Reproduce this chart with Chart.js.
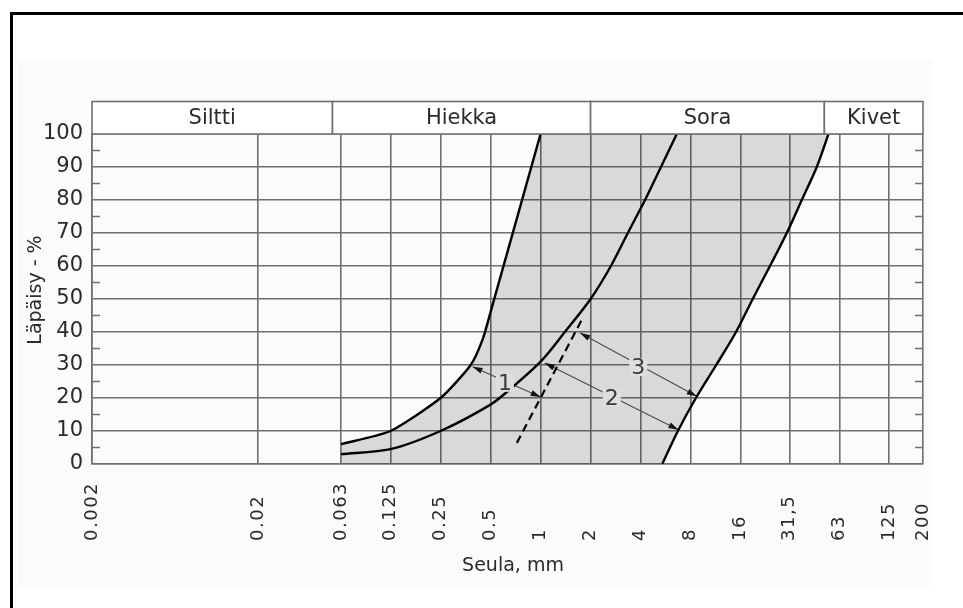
<!DOCTYPE html>
<html>
<head>
<meta charset="utf-8">
<script src="https://cdn.jsdelivr.net/npm/chart.js@4/dist/chart.umd.min.js"></script>
<style>
  html, body { margin: 0; padding: 0; background: #fff; }
  canvas { display: block; }
</style>
</head>
<body>
<canvas id="grading" width="963" height="608"></canvas>
<script>
// Sieve sizes (mm) shown on the x axis and their printed labels
const sieveSizes  = [0.002, 0.02, 0.063, 0.125, 0.25, 0.5, 1, 2, 4, 8, 16, 31.5, 63, 125, 200];
const sieveLabels = ['0.002', '0.02', '0.063', '0.125', '0.25', '0.5', '1', '2', '4', '8', '16', '31,5', '63', '125', '200'];
const minorPass   = [5, 15, 25, 35, 45, 55, 65, 75, 85, 95];

// Soil class header row
const soilClasses = ['Siltti', 'Hiekka', 'Sora', 'Kivet'];
const classBounds = [0.002, 0.056, 2, 51, 200];

// Fine limit of the grading band
const fineSize = [0.063, 0.125, 0.25, 0.38, 0.45, 0.5, 1];
const finePass = [6, 10, 20, 30, 38, 46, 100];

// Middle grading curve
const midSize = [0.063, 0.125, 0.25, 0.5, 0.65, 1, 1.4, 2, 2.65, 3.35, 4.25, 5.3, 6.6];
const midPass = [3, 4.5, 10, 18, 22.5, 31, 40, 50, 60, 70, 80, 90, 100];

// Coarse limit of the grading band
const coarseSize = [5.4, 6.7, 8.6, 11.4, 15.0, 18.9, 24, 30.3, 37.3, 45.9, 54];
const coarsePass = [0, 10, 20, 30, 40, 50, 60, 70, 80, 90, 100];

// Dashed reference line
const dashSize = [0.72, 1.77];
const dashPass = [6.4, 43.7];

// Dimension arrows 1-3
const arrowNames     = ['1', '2', '3'];
const arrowFromSize  = [0.39, 1.06, 1.73];
const arrowFromPass  = [29.5, 30.6, 39.7];
const arrowToSize    = [1.0, 6.75, 8.7];
const arrowToPass    = [20.3, 10.4, 20.5];
const arrowLabelSize = [0.61, 2.68, 3.87];
const arrowLabelPass = [24.6, 20, 29.4];

const FONT = "'DejaVu Sans', Verdana, sans-serif";
const GRID = '#707070';
const TEXT = '#2a2a2a';
const BAND = 'rgba(0,0,0,0.135)';

const pts = (xs, ys) => xs.map((x, i) => ({ x, y: ys[i] }));

const line = (data, extra) => Object.assign({
  data, showLine: true, pointRadius: 0, pointHoverRadius: 0,
  fill: false, borderColor: '#000', borderWidth: 2.4, tension: 0
}, extra || {});

const FINE = 0, MID = 1, COARSE = 2;
const datasets = [
  line(pts(fineSize, finePass), { tension: 0.2 }),
  line(pts(midSize, midPass), { tension: 0.3 }),
  line(pts(coarseSize, coarsePass), { tension: 0.3 }),
  line(pts(dashSize, dashPass), { borderDash: [8, 5], borderWidth: 2.2 })
];
const firstArrow = datasets.length;
arrowNames.forEach((_, i) => {
  datasets.push(line([
    { x: arrowFromSize[i], y: arrowFromPass[i] },
    { x: arrowToSize[i], y: arrowToPass[i] }
  ], { borderColor: '#4a4a4a', borderWidth: 1.1 }));
});

// Page background and the black frame lines
const framePlugin = {
  id: 'frame',
  beforeDraw(chart) {
    const ctx = chart.ctx;
    ctx.save();
    ctx.fillStyle = '#fff';
    ctx.fillRect(0, 0, chart.width, chart.height);
    ctx.fillStyle = '#fbfbfb';
    ctx.fillRect(18, 60, 914, 526);
    ctx.fillStyle = '#000';
    ctx.fillRect(10, 12, chart.width - 10, 3);
    ctx.fillRect(10, 12, 3, chart.height - 12);
    ctx.restore();
  }
};

// Grey band between the fine and the coarse limit curves, shaded in one pass:
// the area right of the fine curve, clipped to the area left of the coarse curve.
const bandPlugin = {
  id: 'band',
  beforeDatasetsDraw(chart) {
    const ctx = chart.ctx, a = chart.chartArea;
    const fine = chart.getDatasetMeta(FINE).dataset;
    const coarse = chart.getDatasetMeta(COARSE).dataset;
    fine.updateControlPoints(a, 'x');
    coarse.updateControlPoints(a, 'x');
    const f0 = fine.points[0];
    ctx.save();
    ctx.beginPath();
    coarse.path(ctx);
    ctx.lineTo(a.left, a.top);
    ctx.lineTo(a.left, a.bottom);
    ctx.closePath();
    ctx.clip();
    ctx.beginPath();
    fine.path(ctx);
    ctx.lineTo(a.right, a.top);
    ctx.lineTo(a.right, a.bottom);
    ctx.lineTo(f0.x, a.bottom);
    ctx.closePath();
    ctx.fillStyle = BAND;
    ctx.fill();
    ctx.restore();
  }
};

// Arrowheads and number labels of the dimension arrows
const arrowPlugin = {
  id: 'arrows',
  afterDatasetsDraw(chart) {
    const ctx = chart.ctx;
    const xs = chart.scales.x, ys = chart.scales.y;
    const head = (tip, from) => {
      const a = Math.atan2(tip.y - from.y, tip.x - from.x);
      const len = 10, half = 3;
      ctx.beginPath();
      ctx.moveTo(tip.x, tip.y);
      ctx.lineTo(tip.x - len * Math.cos(a) + half * Math.sin(a), tip.y - len * Math.sin(a) - half * Math.cos(a));
      ctx.lineTo(tip.x - len * Math.cos(a) - half * Math.sin(a), tip.y - len * Math.sin(a) + half * Math.cos(a));
      ctx.closePath();
      ctx.fill();
    };
    ctx.save();
    ctx.fillStyle = '#111';
    arrowNames.forEach((name, i) => {
      const meta = chart.getDatasetMeta(firstArrow + i);
      const p0 = meta.data[0], p1 = meta.data[1];
      head(p1, p0);
      head(p0, p1);
    });
    ctx.font = '22px ' + FONT;
    ctx.textAlign = 'center';
    ctx.textBaseline = 'middle';
    arrowNames.forEach((name, i) => {
      const x = xs.getPixelForValue(arrowLabelSize[i]);
      const y = ys.getPixelForValue(arrowLabelPass[i]);
      const w = ctx.measureText(name).width;
      ctx.fillStyle = '#dedede';
      ctx.fillRect(x - w / 2 - 2, y - 9, w + 4, 18);
      ctx.fillStyle = '#3a3a3a';
      ctx.fillText(name, x, y + 1);
    });
    ctx.restore();
  }
};

// Header row of soil classes, minor ticks, sieve labels and axis titles
const decorPlugin = {
  id: 'decor',
  afterDraw(chart) {
    const ctx = chart.ctx;
    const xs = chart.scales.x, ys = chart.scales.y;
    const area = chart.chartArea;
    ctx.save();

    // soil class boxes
    const top = 101.5, bottom = area.top;
    ctx.strokeStyle = GRID;
    ctx.lineWidth = 1.6;
    ctx.font = '21px ' + FONT;
    ctx.textAlign = 'center';
    ctx.textBaseline = 'middle';
    soilClasses.forEach((name, i) => {
      const x0 = xs.getPixelForValue(classBounds[i]);
      const x1 = xs.getPixelForValue(classBounds[i + 1]);
      ctx.fillStyle = '#fff';
      ctx.fillRect(x0, top, x1 - x0, bottom - top);
      ctx.strokeRect(x0, top, x1 - x0, bottom - top);
      ctx.fillStyle = TEXT;
      ctx.fillText(name, (x0 + x1) / 2, (top + bottom) / 2 + 1);
    });

    // minor ticks at the 5 % steps, on both side borders
    ctx.beginPath();
    minorPass.forEach(v => {
      const y = ys.getPixelForValue(v);
      ctx.moveTo(area.left, y); ctx.lineTo(area.left + 8, y);
      ctx.moveTo(area.right - 8, y); ctx.lineTo(area.right, y);
    });
    ctx.stroke();

    // sieve size labels, reading upwards
    ctx.fillStyle = TEXT;
    ctx.font = '18px ' + FONT;
    ctx.textAlign = 'left';
    ctx.textBaseline = 'middle';
    if ('letterSpacing' in ctx) ctx.letterSpacing = '1.5px';
    sieveSizes.forEach((v, i) => {
      const x = xs.getPixelForValue(v);
      ctx.save();
      ctx.translate(x, 541);
      ctx.rotate(-Math.PI / 2);
      ctx.fillText(sieveLabels[i], 0, 0);
      ctx.restore();
    });
    if ('letterSpacing' in ctx) ctx.letterSpacing = '0px';

    // axis titles
    ctx.textAlign = 'center';
    ctx.font = '19px ' + FONT;
    ctx.fillText('Seula, mm', 513, 566);
    ctx.save();
    ctx.translate(36, 290);
    ctx.rotate(-Math.PI / 2);
    ctx.fillText('Läpäisy - %', 0, 0);
    ctx.restore();

    ctx.restore();
  }
};

new Chart(document.getElementById('grading'), {
  type: 'scatter',
  data: { datasets },
  plugins: [framePlugin, bandPlugin, arrowPlugin, decorPlugin],
  options: {
    responsive: false,
    animation: false,
    events: [],
    layout: { padding: { top: 134, right: 40, left: 0, bottom: 0 } },
    plugins: { legend: { display: false }, tooltip: { enabled: false } },
    scales: {
      x: {
        type: 'logarithmic',
        min: 0.002,
        max: 200,
        afterBuildTicks: s => { s.ticks = sieveSizes.map(v => ({ value: v })); },
        afterFit: s => { s.height = 144; },
        ticks: { display: false },
        grid: { color: GRID, lineWidth: 1.6, drawTicks: false },
        border: { color: GRID, width: 1.6 }
      },
      y: {
        min: 0,
        max: 100,
        afterFit: s => { s.width = 92; },
        ticks: { stepSize: 10, color: TEXT, padding: 9, font: { family: FONT, size: 21 } },
        grid: { color: GRID, lineWidth: 1.6, drawTicks: false },
        border: { color: GRID, width: 1.6 }
      }
    }
  }
});
</script>
</body>
</html>
